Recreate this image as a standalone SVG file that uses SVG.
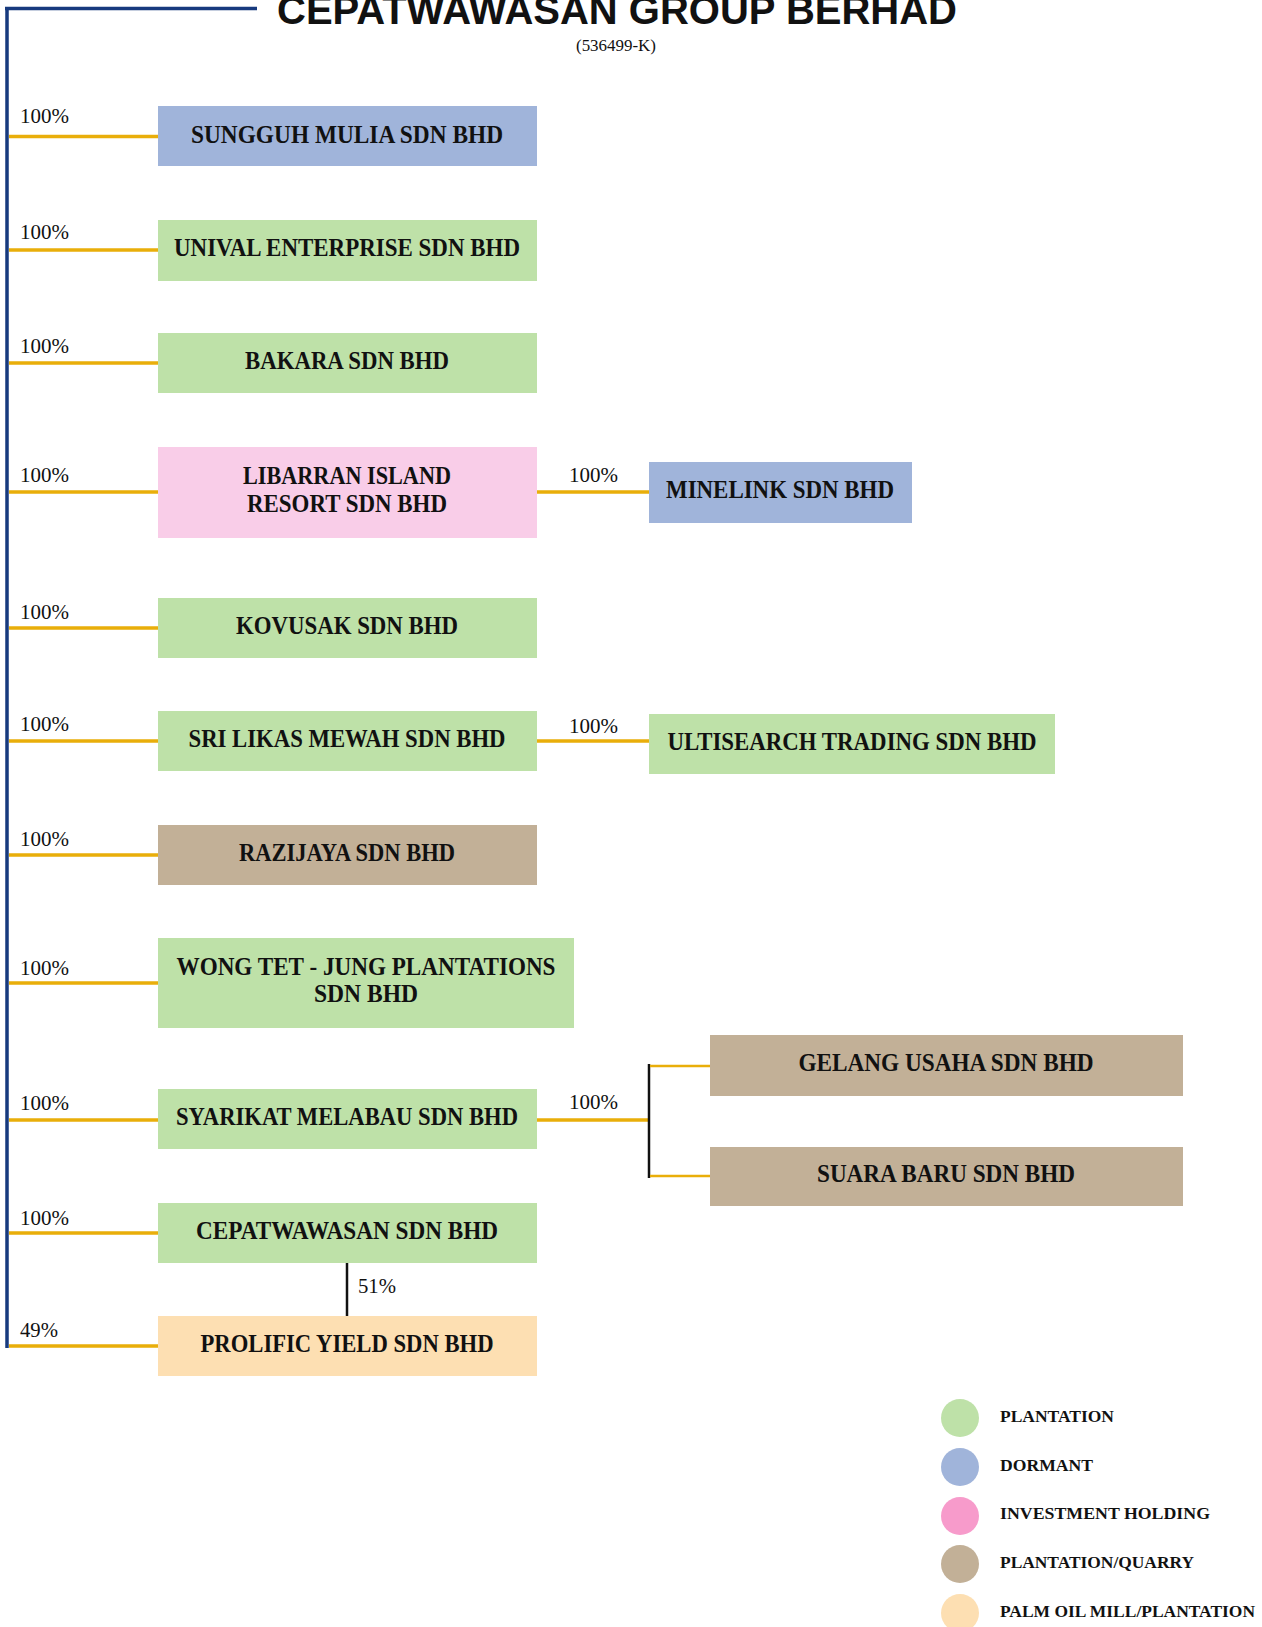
<svg xmlns="http://www.w3.org/2000/svg" width="1262" height="1627" viewBox="0 0 1262 1627">
<style>
.nt{font-family:"Liberation Serif","Times New Roman",serif;font-weight:bold;font-size:25px;fill:#111;text-anchor:middle}
.pc{font-family:"Liberation Serif","Times New Roman",serif;font-size:21px;fill:#111}
.lg{font-family:"Liberation Serif","Times New Roman",serif;font-weight:bold;font-size:17.5px;fill:#111}
.y{stroke:#e9ae0a;stroke-width:3.5;fill:none}
.yt{stroke:#e9ae0a;stroke-width:2.5;fill:none}
.k{stroke:#111;stroke-width:2.5;fill:none}
.nv{stroke:#173a7e;stroke-width:3.5;fill:none}
.g{fill:#bee1a8}.b{fill:#a0b4da}.p{fill:#f9cde8}.t{fill:#c2b097}.o{fill:#fddfb2}
</style>
<rect width="1262" height="1627" fill="#fff"/>
<g id="title">
<text x="277" y="24" font-family="'Liberation Sans',Arial,sans-serif" font-weight="bold" font-size="40" fill="#111" textLength="680" lengthAdjust="spacingAndGlyphs">CEPATWAWASAN GROUP BERHAD</text>
<text x="616" y="51" font-family="'Liberation Serif','Times New Roman',serif" font-size="17" fill="#111" text-anchor="middle" textLength="80" lengthAdjust="spacingAndGlyphs">(536499-K)</text>
</g>
<g id="connectors">
<path class="nv" d="M5 8.5H257M7 7V1348"/>
<path class="y" d="M9 136.5H158M9 250H158M9 363H158M9 492H158M9 628H158M9 741H158M9 855H158M9 983H158M9 1120H158M9 1233H158M9 1346H158"/>
<path class="y" d="M537 492H649M537 741H649M537 1120H649"/>
<path class="k" d="M649 1064V1178"/>
<path class="yt" d="M650 1066H710M650 1176H710"/>
<path class="k" d="M347 1263V1316"/>
<g class="pc">
<text x="20" y="123" textLength="49" lengthAdjust="spacingAndGlyphs">100%</text>
<text x="20" y="239" textLength="49" lengthAdjust="spacingAndGlyphs">100%</text>
<text x="20" y="353" textLength="49" lengthAdjust="spacingAndGlyphs">100%</text>
<text x="20" y="482" textLength="49" lengthAdjust="spacingAndGlyphs">100%</text>
<text x="20" y="619" textLength="49" lengthAdjust="spacingAndGlyphs">100%</text>
<text x="20" y="731" textLength="49" lengthAdjust="spacingAndGlyphs">100%</text>
<text x="20" y="846" textLength="49" lengthAdjust="spacingAndGlyphs">100%</text>
<text x="20" y="975" textLength="49" lengthAdjust="spacingAndGlyphs">100%</text>
<text x="20" y="1110" textLength="49" lengthAdjust="spacingAndGlyphs">100%</text>
<text x="20" y="1225" textLength="49" lengthAdjust="spacingAndGlyphs">100%</text>
<text x="20" y="1337" textLength="38" lengthAdjust="spacingAndGlyphs">49%</text>
<text x="569" y="482" textLength="49" lengthAdjust="spacingAndGlyphs">100%</text>
<text x="569" y="733" textLength="49" lengthAdjust="spacingAndGlyphs">100%</text>
<text x="569" y="1109" textLength="49" lengthAdjust="spacingAndGlyphs">100%</text>
<text x="358" y="1293" textLength="38" lengthAdjust="spacingAndGlyphs">51%</text>
</g>
</g>
<g id="sungguh"><rect class="b" x="158" y="106" width="379" height="60"/><text class="nt" x="347" y="143" textLength="312" lengthAdjust="spacingAndGlyphs">SUNGGUH MULIA SDN BHD</text></g>
<g id="unival"><rect class="g" x="158" y="220" width="379" height="61"/><text class="nt" x="347" y="256" textLength="346" lengthAdjust="spacingAndGlyphs">UNIVAL ENTERPRISE SDN BHD</text></g>
<g id="bakara"><rect class="g" x="158" y="333" width="379" height="60"/><text class="nt" x="347" y="369" textLength="204" lengthAdjust="spacingAndGlyphs">BAKARA SDN BHD</text></g>
<g id="libarran"><rect class="p" x="158" y="447" width="379" height="91"/><text class="nt" x="347" y="484" textLength="208" lengthAdjust="spacingAndGlyphs">LIBARRAN ISLAND</text><text class="nt" x="347" y="512" textLength="200" lengthAdjust="spacingAndGlyphs">RESORT SDN BHD</text></g>
<g id="minelink"><rect class="b" x="649" y="462" width="263" height="61"/><text class="nt" x="780" y="498" textLength="228" lengthAdjust="spacingAndGlyphs">MINELINK SDN BHD</text></g>
<g id="kovusak"><rect class="g" x="158" y="598" width="379" height="60"/><text class="nt" x="347" y="634" textLength="222" lengthAdjust="spacingAndGlyphs">KOVUSAK SDN BHD</text></g>
<g id="srilikas"><rect class="g" x="158" y="711" width="379" height="60"/><text class="nt" x="347" y="747" textLength="317" lengthAdjust="spacingAndGlyphs">SRI LIKAS MEWAH SDN BHD</text></g>
<g id="ultisearch"><rect class="g" x="649" y="714" width="406" height="60"/><text class="nt" x="852" y="750" textLength="369" lengthAdjust="spacingAndGlyphs">ULTISEARCH TRADING SDN BHD</text></g>
<g id="razijaya"><rect class="t" x="158" y="825" width="379" height="60"/><text class="nt" x="347" y="861" textLength="216" lengthAdjust="spacingAndGlyphs">RAZIJAYA SDN BHD</text></g>
<g id="wongtet"><rect class="g" x="158" y="938" width="416" height="90"/><text class="nt" x="366" y="975" textLength="379" lengthAdjust="spacingAndGlyphs">WONG TET - JUNG PLANTATIONS</text><text class="nt" x="366" y="1002" textLength="104" lengthAdjust="spacingAndGlyphs">SDN BHD</text></g>
<g id="syarikat"><rect class="g" x="158" y="1089" width="379" height="60"/><text class="nt" x="347" y="1125" textLength="342" lengthAdjust="spacingAndGlyphs">SYARIKAT MELABAU SDN BHD</text></g>
<g id="gelang"><rect class="t" x="710" y="1035" width="473" height="61"/><text class="nt" x="946" y="1071" textLength="295" lengthAdjust="spacingAndGlyphs">GELANG USAHA SDN BHD</text></g>
<g id="suara"><rect class="t" x="710" y="1147" width="473" height="59"/><text class="nt" x="946" y="1182" textLength="258" lengthAdjust="spacingAndGlyphs">SUARA BARU SDN BHD</text></g>
<g id="cepatwawasan"><rect class="g" x="158" y="1203" width="379" height="60"/><text class="nt" x="347" y="1239" textLength="302" lengthAdjust="spacingAndGlyphs">CEPATWAWASAN SDN BHD</text></g>
<g id="prolific"><rect class="o" x="158" y="1316" width="379" height="60"/><text class="nt" x="347" y="1352" textLength="293" lengthAdjust="spacingAndGlyphs">PROLIFIC YIELD SDN BHD</text></g>
<g id="legend">
<circle cx="960" cy="1418" r="19" fill="#bee1a8"/>
<circle cx="960" cy="1467" r="19" fill="#a0b4da"/>
<circle cx="960" cy="1516" r="19" fill="#f79bcb"/>
<circle cx="960" cy="1564" r="19" fill="#c2b097"/>
<circle cx="960" cy="1613" r="19" fill="#fddfb2"/>
<text class="lg" x="1000" y="1422" textLength="114" lengthAdjust="spacingAndGlyphs">PLANTATION</text>
<text class="lg" x="1000" y="1471" textLength="93" lengthAdjust="spacingAndGlyphs">DORMANT</text>
<text class="lg" x="1000" y="1519" textLength="210" lengthAdjust="spacingAndGlyphs">INVESTMENT HOLDING</text>
<text class="lg" x="1000" y="1568" textLength="194" lengthAdjust="spacingAndGlyphs">PLANTATION/QUARRY</text>
<text class="lg" x="1000" y="1617" textLength="255" lengthAdjust="spacingAndGlyphs">PALM OIL MILL/PLANTATION</text>
</g>
</svg>
